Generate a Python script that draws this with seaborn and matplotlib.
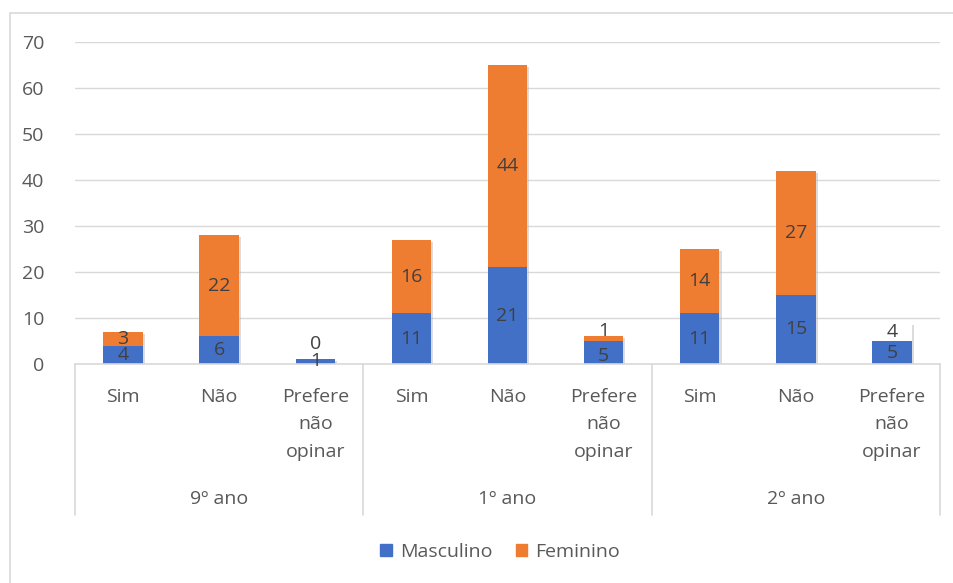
import matplotlib
matplotlib.use("Agg")
import matplotlib.pyplot as plt
import matplotlib.patheffects as pe
from matplotlib.patches import Patch, Rectangle
import seaborn as sns
import pandas as pd
import numpy as np

groups = ["9º ano", "1º ano", "2º ano"]
answers = ["Sim", "Não", "Prefere\nnão\nopinar"]
masculino = [4, 6, 1, 11, 21, 5, 11, 15, 5]
feminino = [3, 22, 0, 16, 44, 1, 14, 27, 4]
yticks = [0, 10, 20, 30, 40, 50, 60, 70]

sns.set_theme(style="white")
plt.rcParams["font.family"] = ["Open Sans", "DejaVu Sans"]

cats = [f"{g}|{a}" for g in groups for a in answers]
df = pd.DataFrame({"cat": cats, "Masculino": masculino, "Feminino": feminino})
df["Total"] = df["Masculino"] + df["Feminino"]

blue = "#4170C6"
orange = "#EE7D31"
txt = "#404040"
fs = 14

fig = plt.figure(figsize=(9.54, 5.83), dpi=100)
ax = fig.add_axes([75 / 954, (583 - 364) / 583, (940 - 75) / 954, 322 / 583])

sns.barplot(data=df, x="cat", y="Total", color=orange, width=0.41, ax=ax,
            saturation=1, linewidth=0, order=cats)
sns.barplot(data=df, x="cat", y="Masculino", color=blue, width=0.41, ax=ax,
            saturation=1, linewidth=0, order=cats)

tot_bars = ax.containers[0]
for i, b in enumerate(tot_bars):
    if i == 8:
        b.set_facecolor("white")
    b.set_path_effects([pe.SimplePatchShadow(offset=(1.5, -1.5), shadow_rgbFace="#bbbbbb", alpha=0.5), pe.Normal()])

for i, (m, f) in enumerate(zip(masculino, feminino)):
    if f == 0:
        ax.text(i, m / 2 + 0.2, str(m), ha="center", va="center", fontsize=fs, color=txt)
        ax.text(i, m + 3.4, str(f), ha="center", va="center", fontsize=fs, color=txt)
    elif f == 1:
        ax.text(i, m / 2 - 0.8, str(m), ha="center", va="center", fontsize=fs, color=txt)
        ax.text(i, m + f / 2 + 1.6, str(f), ha="center", va="center", fontsize=fs, color=txt)
    else:
        ax.text(i, m / 2, str(m), ha="center", va="center", fontsize=fs, color=txt)
        ax.text(i, m + f / 2, str(f), ha="center", va="center", fontsize=fs, color=txt)

ax.set_ylim(0, 70)
ax.set_xlim(-0.5, 8.5)
ax.set_yticks(yticks)
ax.set_yticklabels([str(v) for v in yticks], fontsize=fs, color="#595959")
ax.yaxis.grid(True, color="#d9d9d9", linewidth=1)
ax.set_axisbelow(True)
ax.set_xlabel("")
ax.set_ylabel("")
for s in ["top", "right", "left"]:
    ax.spines[s].set_visible(False)
ax.spines["bottom"].set_color("#d9d9d9")
ax.spines["bottom"].set_linewidth(1.2)
ax.tick_params(axis="y", length=0, pad=22)
ax.tick_params(axis="x", length=0, pad=17)
ax.set_xticks(range(9))
ax.set_xticklabels(answers * 3, fontsize=fs, color="#595959", linespacing=1.68, va="top")

trans = ax.get_xaxis_transform()
for xb in [-0.5, 2.5, 5.5, 8.5]:
    ax.plot([xb, xb], [0, -151 / 322], color="#d9d9d9", linewidth=1.2, transform=trans, clip_on=False)
for gi, g in enumerate(groups):
    ax.text(gi * 3 + 1, -135 / 322, g, ha="center", va="center", fontsize=fs,
            color="#595959", transform=trans)

handles = [Patch(color=blue, label="Masculino"), Patch(color=orange, label="Feminino")]
fig.legend(handles=handles, loc="center", bbox_to_anchor=(500 / 954, 1 - 552 / 583), ncol=2,
           frameon=False, fontsize=fs, handlelength=0.6, handleheight=0.6,
           handletextpad=0.4, columnspacing=1.2, labelcolor="#595959")

fig.patches.append(Rectangle((10 / 954, -0.01), 1.0, 1 - 13 / 583 + 0.01, transform=fig.transFigure,
                             fill=False, edgecolor="#d9d9d9", linewidth=1.2))

fig.savefig("out.png", dpi=100, facecolor="white")
